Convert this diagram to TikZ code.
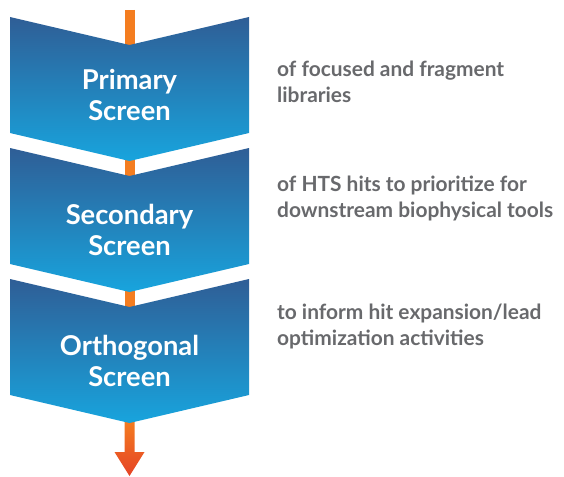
\documentclass[tikz,border=0pt]{standalone}
\usepackage{fontspec}
\setmainfont{Lato}
\usetikzlibrary{calc}
\definecolor{chevtop}{RGB}{47,94,150}
\definecolor{chevbot}{RGB}{24,164,221}
\definecolor{stemorange}{RGB}{244,125,32}
\definecolor{tipred}{RGB}{229,68,38}
\definecolor{notegray}{RGB}{104,105,108}

\begin{document}
\begin{tikzpicture}[
    x=1pt, y=-1pt,
    chev/.style={top color=chevtop, bottom color=chevbot},
    stage/.style={
      text=white, inner sep=0pt, align=center,
      font=\fontsize{27.3}{31}\selectfont\bfseries
    },
    note/.style={
      text=notegray, inner sep=0pt, align=left, anchor=west,
      font=\fontsize{20.9}{26}\selectfont\bfseries
    },
    stem/.style={draw=stemorange, line width=10pt, shorten <=-2pt, shorten >=-2pt},
  ]
  \useasboundingbox (0,0) rectangle (564,476);

  %% Chevron anchor points
  \coordinate (entry) at (129.5,10);
  \coordinate (exit) at (129.5,476);
  \foreach \y/\n in {17/c1, 148/c2, 279/c3} {
    \coordinate (\n-in) at (129.5,\y+28);
    \coordinate (\n-out) at (129.5,\y+144);
  }

  %% Stem behind the chevrons
  \draw[stem, shorten <=0pt] (entry) -- (c1-in);
  \draw[stem] (c1-out) -- (c2-in);
  \draw[stem] (c2-out) -- (c3-in);
  \shade[top color=stemorange, bottom color=tipred]
    ($(c3-out)+(-5,-3)$) -- ($(c3-out)+(5,-3)$) -- ($(exit)+(5,-24)$)
    -- ($(exit)+(15,-24)$) -- (exit) -- ($(exit)+(-15,-24)$)
    -- ($(exit)+(-5,-24)$) -- cycle;

  %% Chevrons
  \foreach \y in {17, 148, 279} {
    \shade[chev] (10,\y) -- (129.5,\y+28) -- (249,\y) -- (249,\y+116)
      -- (129.5,\y+144) -- (10,\y+116) -- cycle;
  }

  %% Stage labels
  \node[stage] (prim) at (129.5,94.5) {Primary\\Screen};
  \node[stage] (sec) at (129.5,230) {Secondary\\Screen};
  \node[stage] (orth) at (129.5,360.5) {Orthogonal\\Screen};

  %% Notes on the right
  \node[note] (n1) at (277,82) {of focused and fragment\\libraries};
  \node[note] (n2) at (277,198) {of HTS hits to prioritize for\\downstream biophysical tools};
  \node[note] (n3) at (277,326) {to inform hit expansion/lead\\optimization activities};

\end{tikzpicture}
\end{document}
